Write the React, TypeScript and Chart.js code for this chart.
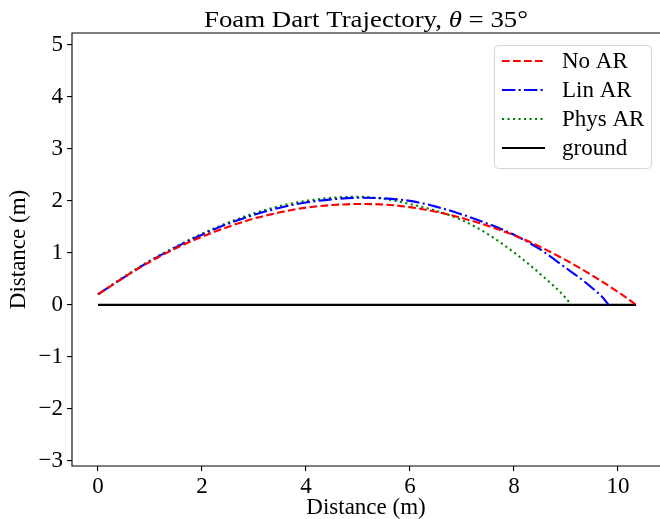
import React, { useEffect, useRef } from 'react';
import { Chart, registerables } from 'chart.js';

Chart.register(...registerables);

// ---- data ----
const noArX = [0, 0.5, 1, 1.5, 2, 2.5, 3, 3.5, 4, 4.5, 5, 5.5, 6, 6.5, 7, 7.5, 8, 8.5, 9, 9.5, 10, 10.35];
const noArY = [0.2, 0.53, 0.83, 1.09, 1.31, 1.5, 1.66, 1.78, 1.87, 1.92, 1.94, 1.93, 1.88, 1.79, 1.67, 1.52, 1.34, 1.12, 0.86, 0.57, 0.25, 0.0];

const linArX = [0, 0.5, 1, 1.5, 2, 2.5, 3, 3.5, 4, 4.5, 5, 5.5, 6, 6.5, 7, 7.5, 8, 8.5, 9, 9.25, 9.5, 9.7, 9.82];
const linArY = [0.2, 0.53, 0.84, 1.11, 1.35, 1.56, 1.73, 1.87, 1.97, 2.03, 2.06, 2.05, 2.0, 1.89, 1.74, 1.56, 1.35, 1.07, 0.71, 0.53, 0.33, 0.15, 0.0];

const physArX = [0, 0.5, 1, 1.5, 2, 2.5, 3, 3.5, 4, 4.5, 5, 5.5, 6, 6.5, 7, 7.5, 8, 8.5, 9, 9.1];
const physArY = [0.2, 0.54, 0.85, 1.12, 1.37, 1.58, 1.76, 1.9, 2.0, 2.06, 2.08, 2.04, 1.94, 1.81, 1.63, 1.36, 1.01, 0.6, 0.13, 0.0];

const groundX = [0, 10.35];
const groundY = [0, 0];

const seriesLabels = ['No AR', 'Lin AR', 'Phys AR', 'ground'];
const xTicks = [0, 2, 4, 6, 8, 10];
const yTicks = [-3, -2, -1, 0, 1, 2, 3, 4, 5];
const axisTitleX = 'Distance (m)';
const axisTitleY = 'Distance (m)';
const titleParts = [
  { text: 'Foam Dart Trajectory, ', italic: false },
  { text: 'θ', italic: true },
  { text: ' = 35°', italic: false },
];

const FONT = '"Liberation Serif", "Times New Roman", serif';

const pts = (xs: number[], ys: number[]) => xs.map((x, i) => ({ x, y: ys[i] }));

const decorPlugin = {
  id: 'decor',
  afterDraw(chart: any) {
    const { ctx, chartArea: a } = chart;
    ctx.save();
    // spines (right one lies outside the canvas in the reference)
    ctx.strokeStyle = '#000';
    ctx.lineWidth = 1.1;
    ctx.setLineDash([]);
    ctx.beginPath();
    ctx.moveTo(a.right + 2, a.top);
    ctx.lineTo(a.left, a.top);
    ctx.lineTo(a.left, a.bottom);
    ctx.lineTo(a.right + 2, a.bottom);
    ctx.stroke();

    // title
    const size = 24;
    const targetW = 324;
    const widths = titleParts.map((p) => {
      ctx.font = `${p.italic ? 'italic ' : ''}${size}px ${FONT}`;
      return ctx.measureText(p.text).width;
    });
    const total = widths.reduce((s, w) => s + w, 0);
    const sx = targetW / total;
    const cx = (a.left + a.right) / 2;
    ctx.save();
    ctx.translate(cx - targetW / 2, 27);
    ctx.scale(sx, 1);
    let tx = 0;
    ctx.fillStyle = '#000';
    ctx.textBaseline = 'alphabetic';
    ctx.textAlign = 'left';
    titleParts.forEach((p, i) => {
      ctx.font = `${p.italic ? 'italic ' : ''}${size}px ${FONT}`;
      ctx.fillText(p.text, tx, 0);
      tx += widths[i];
    });
    ctx.restore();

    // legend
    const bx = 494.5, by = 45.5, bw = 157, bh = 123, r = 4;
    ctx.beginPath();
    ctx.moveTo(bx + r, by);
    ctx.arcTo(bx + bw, by, bx + bw, by + bh, r);
    ctx.arcTo(bx + bw, by + bh, bx, by + bh, r);
    ctx.arcTo(bx, by + bh, bx, by, r);
    ctx.arcTo(bx, by, bx + bw, by, r);
    ctx.closePath();
    ctx.fillStyle = 'rgba(255,255,255,0.8)';
    ctx.fill();
    ctx.strokeStyle = '#d6d6d6';
    ctx.lineWidth = 1;
    ctx.stroke();

    chart.data.datasets.forEach((ds: any, i: number) => {
      const y = 61 + 29 * i;
      ctx.beginPath();
      ctx.setLineDash(ds.borderDash || []);
      ctx.strokeStyle = ds.borderColor;
      ctx.lineWidth = ds.borderWidth;
      ctx.moveTo(502, y);
      ctx.lineTo(545, y);
      ctx.stroke();
      ctx.setLineDash([]);
      ctx.font = `23px ${FONT}`;
      ctx.fillStyle = '#000';
      ctx.textBaseline = 'middle';
      ctx.fillText(ds.label, 562, y + 1);
    });
    ctx.restore();
  },
};

export default function App() {
  const ref = useRef<HTMLCanvasElement | null>(null);

  useEffect(() => {
    if (!ref.current) return;
    const tickFont = { family: FONT, size: 23 };
    const chart = new Chart(ref.current, {
      type: 'line',
      data: {
        datasets: [
          {
            label: seriesLabels[0],
            data: pts(noArX, noArY),
            borderColor: '#ff0000',
            borderDash: [7.7, 3.3],
            borderWidth: 2.1,
            pointRadius: 0,
            cubicInterpolationMode: 'monotone',
          },
          {
            label: seriesLabels[1],
            data: pts(linArX, linArY),
            borderColor: '#0000ff',
            borderDash: [13.3, 3.3, 2.1, 3.3],
            borderWidth: 2.1,
            pointRadius: 0,
            cubicInterpolationMode: 'monotone',
          },
          {
            label: seriesLabels[2],
            data: pts(physArX, physArY),
            borderColor: '#008000',
            borderDash: [2.1, 3.4],
            borderWidth: 2.1,
            pointRadius: 0,
            cubicInterpolationMode: 'monotone',
          },
          {
            label: seriesLabels[3],
            data: pts(groundX, groundY),
            borderColor: '#000000',
            borderWidth: 2.1,
            pointRadius: 0,
          },
        ],
      } as any,
      options: {
        animation: false,
        responsive: false,
        maintainAspectRatio: false,
        layout: { padding: { top: 33, left: 0, right: 0, bottom: 0 } },
        plugins: {
          legend: { display: false },
          title: { display: false },
          tooltip: { enabled: false },
        },
        scales: {
          x: {
            type: 'linear',
            min: -0.5,
            max: 10.81,
            afterBuildTicks: (s: any) => {
              s.ticks = xTicks.map((v) => ({ value: v }));
            },
            afterFit: (s: any) => {
              s.height = 53;
            },
            grid: {
              display: true,
              drawOnChartArea: false,
              drawTicks: true,
              tickLength: 5,
              color: '#000',
              lineWidth: 1.1,
            },
            border: { display: false },
            ticks: {
              font: tickFont,
              color: '#000',
              padding: 2,
              maxRotation: 0,
              autoSkip: false,
              callback: (v: any) => String(v).replace('-', '\u2212'),
            },
            title: {
              display: true,
              text: axisTitleX,
              font: { family: FONT, size: 23, lineHeight: 1 },
              color: '#000',
              padding: { top: 0, bottom: 0 },
            },
          },
          y: {
            type: 'linear',
            min: -3.1,
            max: 5.23,
            afterBuildTicks: (s: any) => {
              s.ticks = yTicks.map((v) => ({ value: v }));
            },
            afterFit: (s: any) => {
              s.width = 72;
            },
            grid: {
              display: true,
              drawOnChartArea: false,
              drawTicks: true,
              tickLength: 5,
              color: '#000',
              lineWidth: 1.1,
            },
            border: { display: false },
            ticks: {
              font: tickFont,
              color: '#000',
              padding: 4,
              autoSkip: false,
              callback: (v: any) => String(v).replace('-', '\u2212'),
            },
            title: {
              display: true,
              text: axisTitleY,
              font: { family: FONT, size: 23, lineHeight: 1.2 },
              color: '#000',
              padding: { top: 5, bottom: 0 },
            },
          },
        },
      } as any,
      plugins: [decorPlugin],
    });
    return () => chart.destroy();
  }, []);

  return (
    <div style={{ position: 'absolute', left: 0, top: 0, width: 660, height: 519, background: '#fff' }}>
      <canvas ref={ref} width={660} height={519} style={{ display: 'block', width: 660, height: 519 }} />
    </div>
  );
}
